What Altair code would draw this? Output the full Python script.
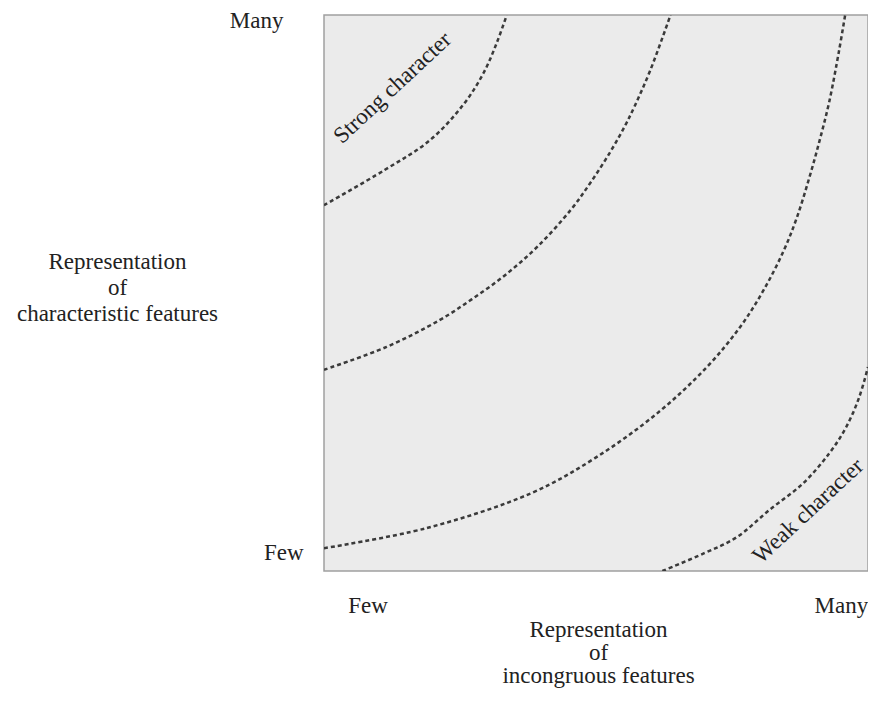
import altair as alt
import pandas as pd

# Curves (x = incongruous features, y = characteristic features), normalized 0..1
c1_x = [0.0, 0.111, 0.195, 0.257, 0.294, 0.318, 0.336]
c1_y = [0.658, 0.721, 0.775, 0.840, 0.897, 0.951, 1.0]
c2_x = [0.0, 0.115, 0.212, 0.272, 0.334, 0.394, 0.454, 0.491, 0.527, 0.553, 0.571, 0.600, 0.637]
c2_y = [0.362, 0.403, 0.451, 0.489, 0.533, 0.585, 0.650, 0.700, 0.755, 0.800, 0.836, 0.901, 1.0]
c3_x = [0.0, 0.188, 0.381, 0.498, 0.613, 0.704, 0.765, 0.808, 0.845, 0.869, 0.892, 0.911, 0.929, 0.947, 0.958]
c3_y = [0.041, 0.077, 0.140, 0.203, 0.284, 0.367, 0.439, 0.505, 0.576, 0.635, 0.707, 0.774, 0.845, 0.937, 1.0]
c4_x = [0.622, 0.699, 0.759, 0.819, 0.881, 0.929, 0.960, 0.984, 1.0]
c4_y = [0.0, 0.032, 0.061, 0.110, 0.158, 0.212, 0.259, 0.313, 0.367]

curve_labels = ["Strong character", "Weak character"]
curve_label_x = [0.126, 0.890]
curve_label_y = [0.869, 0.108]

tick_values = [0.034, 0.991]
x_tick_values = [0.080, 0.950]
tick_text = ["Few", "Many"]

y_title = ["Representation", "of", "characteristic features"]
x_title = ["Representation", "of", "incongruous features"]

rows = []
for name, xs, ys in [("c1", c1_x, c1_y), ("c2", c2_x, c2_y), ("c3", c3_x, c3_y), ("c4", c4_x, c4_y)]:
    for i, (a, b) in enumerate(zip(xs, ys)):
        rows.append({"curve": name, "x": a, "y": b, "i": i})
curves = pd.DataFrame(rows)
labels = pd.DataFrame({"label": curve_labels, "x": curve_label_x, "y": curve_label_y})

FONT = "Liberation Serif"
INK = "#222222"

label_expr = f"datum.value < 0.5 ? '{tick_text[0]}' : '{tick_text[1]}'"

xscale = alt.Scale(domain=[0, 1], nice=False, zero=False)
yscale = alt.Scale(domain=[0, 1], nice=False, zero=False)

x_axis = alt.Axis(
    values=x_tick_values, labelExpr=label_expr, domain=False, ticks=False, grid=False,
    labelFont=FONT, labelFontSize=23, labelColor=INK, labelPadding=23,
    labelBaseline="top", labelAlign="center",
    title=x_title, titleFont=FONT, titleFontSize=23, titleFontWeight="normal",
    titleColor=INK, titleLineHeight=23, titleX=274, titleY=65,
    titleAlign="center", titleBaseline="alphabetic", titleAngle=0,
)
y_axis = alt.Axis(
    values=tick_values, labelExpr=label_expr, domain=False, ticks=False, grid=False,
    labelFont=FONT, labelFontSize=23, labelColor=INK,
    labelPadding={"condition": {"test": "datum.value > 0.5", "value": 41}, "value": 21},
    labelBaseline="middle", labelAlign="right",
    title=y_title, titleFont=FONT, titleFontSize=23, titleFontWeight="normal",
    titleColor=INK, titleLineHeight=26, titleX=-207, titleY=253,
    titleAlign="center", titleBaseline="alphabetic", titleAngle=0,
)

lines = alt.Chart(curves).mark_line(
    color="#3a3a3a", strokeWidth=2.5, strokeDash=[4, 3], interpolate="catmull-rom", clip=True
).encode(
    x=alt.X("x:Q", scale=xscale, axis=x_axis),
    y=alt.Y("y:Q", scale=yscale, axis=y_axis),
    detail="curve:N",
    order="i:Q",
)

texts = alt.Chart(labels).mark_text(
    font=FONT, fontSize=23, angle=317, color=INK, align="center", baseline="middle"
).encode(
    x=alt.X("x:Q", scale=xscale),
    y=alt.Y("y:Q", scale=yscale),
    text="label:N",
)

chart = alt.layer(lines, texts).properties(
    width=544, height=556,
    autosize=alt.AutoSizeParams(type="none"),
    padding={"left": 316, "top": 7, "right": 0, "bottom": 117},
    background="white",
).configure_view(
    fill="#ebebeb", stroke="#a0a0a0", strokeWidth=1.5
)

chart.save("out.html", embed_options={"renderer": "svg", "actions": False})
